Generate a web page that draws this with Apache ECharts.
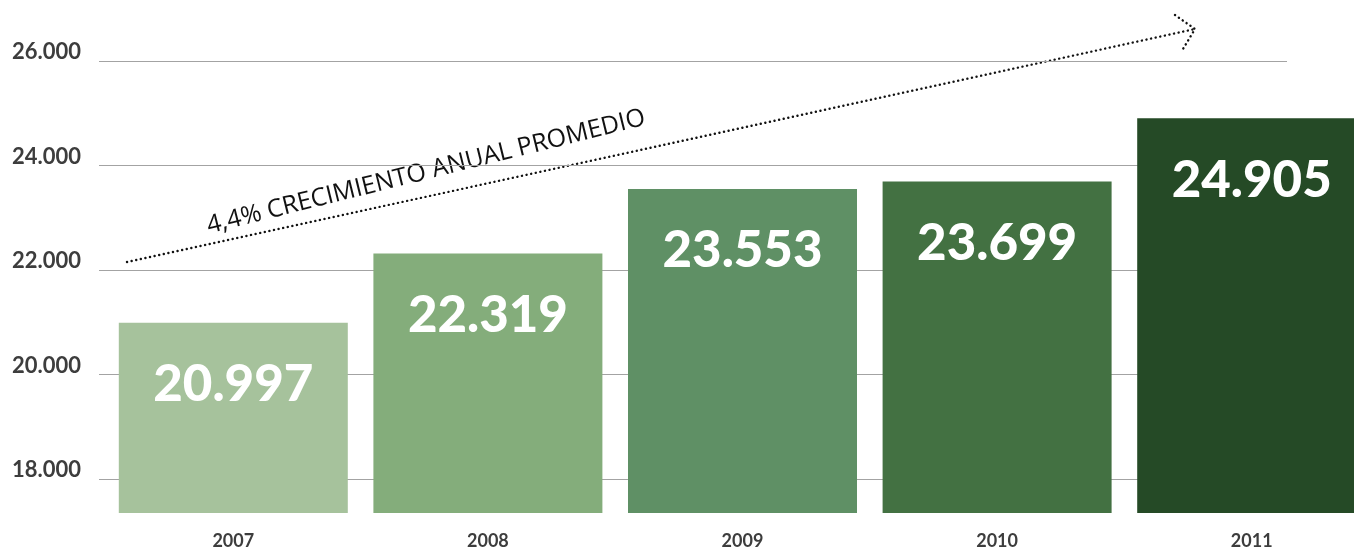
<!DOCTYPE html>
<html>
<head>
<meta charset="utf-8">
<script src="https://cdn.jsdelivr.net/npm/echarts@6/dist/echarts.min.js"></script>
<style>
  html, body { margin: 0; padding: 0; background: #fff; }
  #chart { width: 1354px; height: 550px; }
</style>
</head>
<body>
<div id="chart"></div>
<script>
// datos
var years = ['2007', '2008', '2009', '2010', '2011'];
var values = [20997, 22319, 23553, 23699, 24905];
var barColors = ['#a6c29c', '#84ad7b', '#5f9065', '#437142', '#254a26'];
var yTicks = [18000, 20000, 22000, 24000, 26000];
var noteText = '4,4% CRECIMIENTO ANUAL PROMEDIO';

function fmt(v) {
    return String(v).replace(/\B(?=(\d{3})+(?!\d))/g, '.');
}

var chart = echarts.init(document.getElementById('chart'));

var dotted = {
    stroke: '#111',
    lineWidth: 2.4,
    lineDash: [0.1, 4.6],
    lineCap: 'round',
    fill: null
};

var option = {
    backgroundColor: '#fff',
    animation: false,
    grid: [
        // grilla de lineas horizontales
        { left: 99, right: 67, top: 61, bottom: 71, outerBoundsMode: 'none' },
        // grilla de barras (la ultima barra sale del lienzo)
        { left: 106, right: -25, top: 61, bottom: 37, outerBoundsMode: 'none' }
    ],
    xAxis: [
        { gridIndex: 0, type: 'value', show: false },
        {
            gridIndex: 1,
            type: 'category',
            data: years,
            axisLine: { show: false },
            axisTick: { show: false },
            axisLabel: {
                margin: 19,
                color: '#3d3d3d',
                fontFamily: 'Lato',
                fontWeight: 'bold',
                fontSize: 18
            }
        }
    ],
    yAxis: [
        {
            gridIndex: 0,
            type: 'value',
            min: yTicks[0],
            max: yTicks[yTicks.length - 1],
            interval: 2000,
            axisLine: { show: false },
            axisTick: { show: false },
            splitLine: { lineStyle: { color: '#a3a3a3', width: 1 } },
            axisLabel: {
                align: 'left',
                verticalAlign: 'bottom',
                margin: 87,
                lineHeight: 20,
                padding: [0, 0, -1, 0],
                color: '#3d3d3d',
                fontFamily: 'Lato',
                fontWeight: 'bold',
                fontSize: 22,
                formatter: function (v) { return fmt(v); }
            }
        },
        {
            gridIndex: 1,
            type: 'value',
            min: 17360,
            max: 26000,
            show: false,
            splitLine: { show: false }
        }
    ],
    series: [
        {
            type: 'bar',
            xAxisIndex: 1,
            yAxisIndex: 1,
            barWidth: 229,
            data: values,
            itemStyle: {
                color: function (p) { return barColors[p.dataIndex]; }
            },
            label: {
                show: true,
                position: 'insideTop',
                distance: 37,
                color: '#fff',
                fontFamily: 'Lato',
                fontWeight: 900,
                fontSize: 51,
                lineHeight: 50,
                formatter: function (p) { return fmt(p.value); }
            }
        }
    ],
    graphic: [
        {
            type: 'line',
            silent: true,
            shape: { x1: 127, y1: 262, x2: 1195, y2: 29 },
            style: dotted
        },
        {
            type: 'polyline',
            silent: true,
            shape: { points: [[1175, 15], [1195, 29], [1183, 49]] },
            style: dotted
        },
        {
            type: 'text',
            silent: true,
            x: 426,
            y: 172,
            rotation: 14 * Math.PI / 180,
            style: {
                text: noteText,
                fill: '#111',
                font: '25px "Open Sans"',
                align: 'center',
                verticalAlign: 'middle'
            }
        }
    ]
};

chart.setOption(option);
</script>
</body>
</html>
